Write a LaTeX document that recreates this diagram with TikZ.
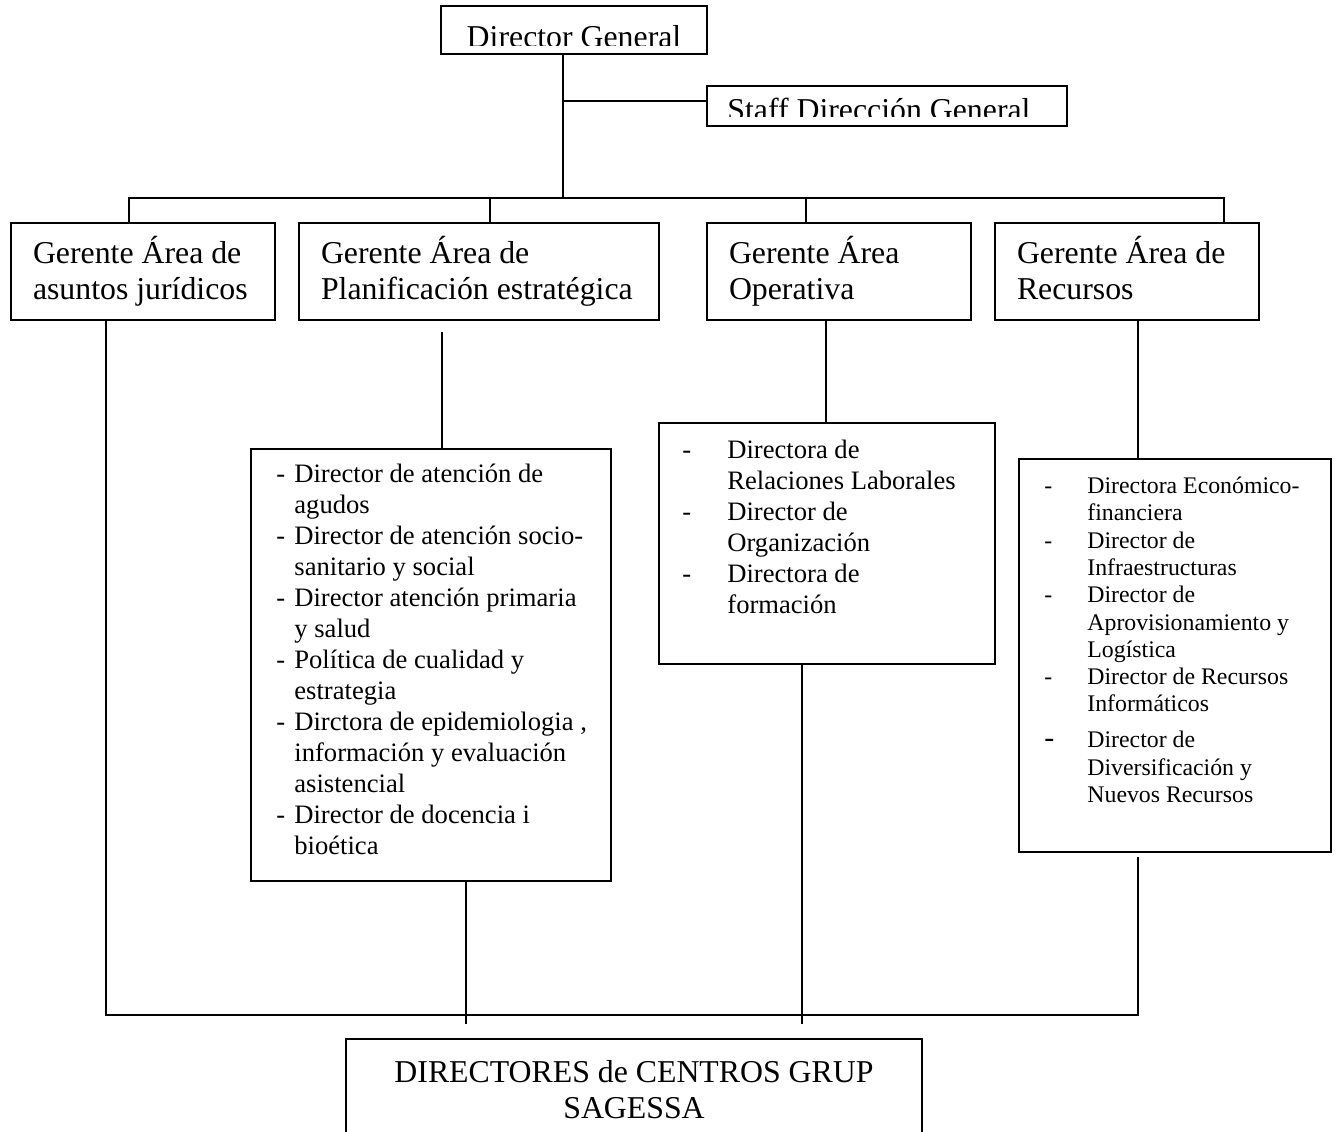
\documentclass[tikz,border=0pt]{standalone}
\usepackage{fontspec}
\setmainfont{Liberation Serif}
\usetikzlibrary{
  positioning,
  calc
}

\begin{document}
\begin{tikzpicture}[
    x=0.5pt,y=-0.5pt,
    frame/.style={
      draw=black,
      line width=1pt,
      inner sep=0pt,
      anchor=north west
    },
    gerente/.style={
      draw=black,
      line width=1pt,
      anchor=north west,
      align=flush left,
      font=\headFont,
      inner xsep=11pt,
      minimum height=48.5pt,
      execute at end node={\rule[-3.6pt]{0pt}{3.6pt}}
    },
    items/.style={
      inner sep=0pt,
      anchor=north west
    },
    link/.style={
      draw=black,
      line width=0.8pt
    }
  ]
  \newcommand{\headFont}{\fontsize{15.9}{18.3}\selectfont}
  \newcommand{\listFont}{\fontsize{13.3}{15.5}\selectfont}
  \newcommand{\smallListFont}{\fontsize{11.9}{13.65}\selectfont}

  \useasboundingbox (0,0) rectangle (1336,1131);

  % Direction
  \node[frame, minimum width=133pt, minimum height=24pt] (dg) at (440,5) {};
  \node[frame, minimum width=180pt, minimum height=20pt] (staff) at (706,85) {};
  \begin{scope}
    \clip (dg.north west) rectangle ([yshift=4.75pt]dg.south east);
    \node[anchor=base, font=\headFont] (dgtext) at ([yshift=-21pt]dg.north) {Director General};
  \end{scope}
  \begin{scope}
    \clip (staff.north west) rectangle ([yshift=5.5pt]staff.south east);
    \node[anchor=base west, inner sep=0pt, font=\headFont] (stafftext) at ([xshift=10.5pt,yshift=-17.5pt]staff.north west) {Staff Dirección General};
  \end{scope}

  % Gerentes
  \node[gerente, text width=110pt] (g1) at (10,222) {Gerente Área de\\asuntos jurídicos};
  \node[gerente, text width=158pt] (g2) at (298,222) {Gerente Área de\\Planificación estratégica};
  \node[gerente, text width=110pt] (g3) at (706,222) {Gerente Área\\Operativa};
  \node[gerente, text width=110pt] (g4) at (994,222) {Gerente Área de\\Recursos};

  % Bus
  \coordinate (trunk) at ($(dg.south west)+(123,0)$);
  \coordinate (g1top) at ($(g1.north west)+(119,0)$);
  \coordinate (g2top) at ($(g2.north west)+(192,0)$);
  \coordinate (g3top) at ($(g3.north west)+(100,0)$);
  \coordinate (g4top) at ($(g4.north west)+(230,0)$);
  \coordinate (bus) at ($(g1top)+(0,-24)$);
  \coordinate (staffjoin) at ([yshift=2.5pt]staff.west);

  \draw[link] (trunk) -- (trunk |- bus);
  \draw[link] (staffjoin -| trunk) -- (staffjoin);
  \draw[link] (g1top) |- (g4top |- bus) -- (g4top);
  \draw[link] (g2top) -- (g2top |- bus);
  \draw[link] (g3top) -- (g3top |- bus);

  % Planificacion
  \node[frame, minimum width=180pt, minimum height=216pt] (plan) at (250,448) {};
  \node[items, font=\listFont, below right=6pt and 13pt of plan.north west] (planlist) {%
    \begin{tabular}{@{}p{9pt}@{}l@{}}
      - & Director de atención de\\
        & agudos\\
      - & Director de atención socio-\\
        & sanitario y social\\
      - & Director atención primaria\\
        & y salud\\
      - & Política de cualidad y\\
        & estrategia\\
      - & Dirctora de epidemiologia ,\\
        & información y evaluación\\
        & asistencial\\
      - & Director de docencia i\\
        & bioética
    \end{tabular}};

  % Operativa
  \node[frame, minimum width=168pt, minimum height=120.5pt] (op) at (658,422) {};
  \node[items, font=\listFont, below right=7pt and 12pt of op.north west] (oplist) {%
    \begin{tabular}{@{}p{22.5pt}@{}l@{}}
      - & Directora de\\
        & Relaciones Laborales\\
      - & Director de\\
        & Organización\\
      - & Directora de\\
        & formación
    \end{tabular}};

  % Recursos
  \node[frame, minimum width=156pt, minimum height=196.5pt] (res) at (1018,458) {};
  \node[items, font=\smallListFont, below right=8pt and 13pt of res.north west] (reslist) {%
    \begin{tabular}{@{}p{21.5pt}@{}l@{}}
      - & Directora Económico-\\
        & financiera\\
      - & Director de\\
        & Infraestructuras\\
      - & Director de\\
        & Aprovisionamiento y\\
        & Logística\\
      - & Director de Recursos\\
        & Informáticos\\[4.25pt]
      \fontsize{15}{13.65}\selectfont - & Director de\\
        & Diversificación y\\
        & Nuevos Recursos
    \end{tabular}};

  \draw[link] ($(g2.south west)+(144,11)$) -- ($(plan.north west)+(192,0)$);
  \draw[link] ($(g3.south west)+(120,0)$) -- ($(op.north west)+(168,0)$);
  \draw[link] ($(g4.south west)+(144,0)$) -- ($(res.north west)+(120,0)$);

  % Centros
  \node[draw=black, line width=1pt, anchor=north, align=flush center, font=\headFont,
    text width=267pt, inner xsep=10.5pt, inner ysep=10.5pt] (sag) at (634,1038)
    {DIRECTORES de CENTROS GRUP\\SAGESSA};

  \coordinate (sagbus) at ($(sag.north)+(0,-23)$);
  \coordinate (g1foot) at ($(g1.south west)+(96,0)$);
  \coordinate (resfoot) at ($(res.south west)+(120,4)$);
  \draw[link] (g1foot) |- (sagbus -| resfoot) -- (resfoot);
  \draw[link] ($(plan.south west)+(216,0)$) -- ($(sag.north)+(-168,-14)$);
  \draw[link] ($(op.south west)+(144,0)$) -- ($(sag.north)+(168,-14)$);
\end{tikzpicture}
\end{document}
